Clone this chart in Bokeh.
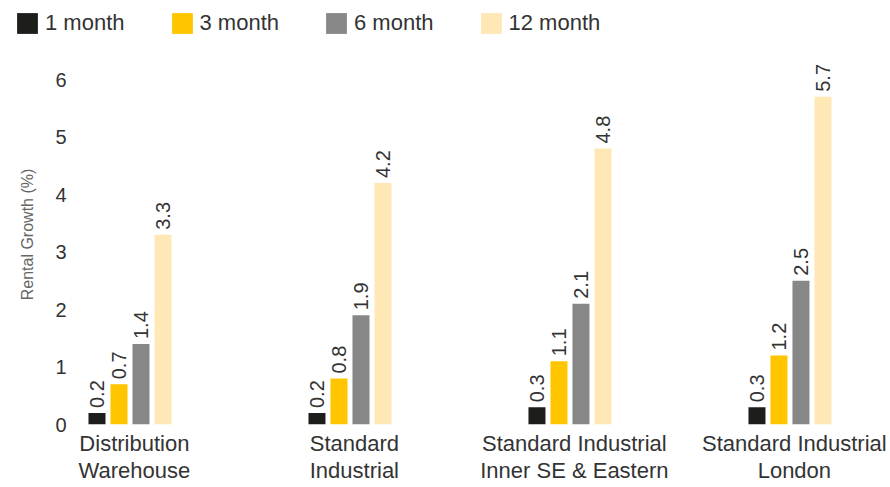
import math
from bokeh.plotting import figure
from bokeh.layouts import column
from bokeh.models import ColumnDataSource, FixedTicker, Legend, LegendItem, Range1d
from bokeh.core.properties import value
from bokeh.embed import file_html
from bokeh.resources import INLINE

# ---- data ----
categories = ["Distribution\nWarehouse", "Standard\nIndustrial",
              "Standard Industrial\nInner SE & Eastern", "Standard Industrial\nLondon"]
series_names = ["1 month", "3 month", "6 month", "12 month"]
growth_1m = [0.2, 0.2, 0.3, 0.3]
growth_3m = [0.7, 0.8, 1.1, 1.2]
growth_6m = [1.4, 1.9, 2.1, 2.5]
growth_12m = [3.3, 4.2, 4.8, 5.7]
y_ticks = [0, 1, 2, 3, 4, 5, 6]

series_values = [growth_1m, growth_3m, growth_6m, growth_12m]
colors = ["#1d1d1b", "#ffc600", "#878787", "#ffe8b5"]
FONT = "Liberation Sans"
TXT = "#333333"

# ---- legend strip (top) ----
lf = figure(width=890, height=44, output_backend="svg", toolbar_location=None,
            x_axis_location=None, y_axis_location=None,
            x_range=Range1d(0, 1), y_range=Range1d(0, 1),
            min_border_left=0, min_border_right=0, min_border_top=0, min_border_bottom=0)
lf.frame_align = False
lf.grid.visible = False
lf.outline_line_color = None
leg_items = []
for j, (name, col) in enumerate(zip(series_names, colors)):
    # zero-size placeholder bar: only its legend swatch is shown
    r = lf.vbar(x=[j], top=[0], bottom=0, width=0, fill_color=col, line_color=None)
    leg_items.append(LegendItem(label=name, renderers=[r]))
legend = Legend(items=leg_items, orientation="horizontal", location=(14, 8),
                glyph_width=26, glyph_height=26, label_standoff=5, spacing=44,
                padding=0, margin=0, border_line_color=None, background_fill_alpha=0,
                label_text_font=FONT, label_text_font_size="22px", label_text_color=TXT)
lf.add_layout(legend)

# ---- main chart ----
p = figure(width=890, height=443, output_backend="svg", toolbar_location=None,
           x_range=Range1d(-0.2677, 3.437), y_range=Range1d(0, 6.609),
           min_border_left=75, min_border_right=0, min_border_top=0, min_border_bottom=63)
p.frame_align = False
p.outline_line_color = None
p.xgrid.visible = False
p.ygrid.visible = False

group_shift = -0.02
offsets = [-0.15, -0.05, 0.05, 0.15]
bar_w = 0.0773

for name, vals, col, off in zip(series_names, series_values, colors, offsets):
    xs = [i + group_shift + off for i in range(len(categories))]
    src = ColumnDataSource(dict(x=xs, top=vals, label=[f"{v:.1f}" for v in vals]))
    p.vbar(x="x", top="top", width=bar_w, bottom=0, source=src,
           fill_color=col, line_color=None)
    p.text(x="x", y="top", text="label", source=src, angle=math.pi / 2,
           text_align="left", text_baseline="middle", y_offset=-5,
           text_font=value(FONT), text_font_size="20px", text_color=TXT)

xa = p.xaxis[0]
xa.ticker = FixedTicker(ticks=list(range(len(categories))))
xa.major_label_overrides = {i: c for i, c in enumerate(categories)}
xa.axis_line_color = None
xa.major_tick_line_color = None
xa.minor_tick_line_color = None
xa.major_label_standoff = 0
xa.major_label_text_font = FONT
xa.major_label_text_font_size = "22px"
xa.major_label_text_color = TXT
xa.major_label_text_line_height = 1.1

ya = p.yaxis[0]
ya.ticker = FixedTicker(ticks=y_ticks)
ya.axis_line_color = None
ya.major_tick_line_color = None
ya.minor_tick_line_color = None
ya.major_label_standoff = 3
ya.major_label_text_font = FONT
ya.major_label_text_font_size = "20px"
ya.major_label_text_color = TXT
ya.axis_label = "Rental Growth (%)"
ya.axis_label_text_font = FONT
ya.axis_label_text_font_size = "16px"
ya.axis_label_text_font_style = "normal"
ya.axis_label_text_color = "#666666"
ya.axis_label_standoff = 16

layout = column(lf, p, spacing=0)
open("out.html", "w").write(file_html(layout, INLINE))
